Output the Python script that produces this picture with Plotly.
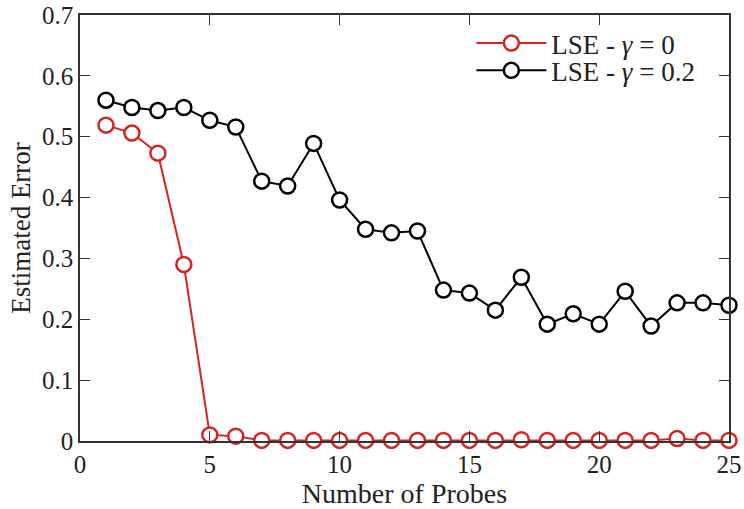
import plotly.graph_objects as go

probes = list(range(1, 26))
err_gamma0 = [0.519, 0.506, 0.473, 0.290, 0.010, 0.008, 0.001, 0.001, 0.001, 0.001,
              0.001, 0.001, 0.001, 0.001, 0.001, 0.001, 0.002, 0.001, 0.001, 0.001,
              0.001, 0.001, 0.004, 0.001, 0.001]
err_gamma02 = [0.560, 0.548, 0.543, 0.548, 0.527, 0.516, 0.427, 0.419, 0.489, 0.396,
               0.348, 0.342, 0.345, 0.248, 0.243, 0.215, 0.269, 0.192, 0.209, 0.192,
               0.246, 0.189, 0.227, 0.227, 0.223]
x_ticks = [0, 5, 10, 15, 20, 25]
y_ticks = [0, 0.1, 0.2, 0.3, 0.4, 0.5, 0.6, 0.7]
y_ticktext = ["0", "0.1", "0.2", "0.3", "0.4", "0.5", "0.6", "0.7"]

FONT = "Liberation Serif, Times New Roman, serif"
RED = "#d42424"

fig = go.Figure()
fig.add_trace(go.Scatter(
    x=probes, y=err_gamma0, mode="lines+markers", name="LSE - <i>γ</i> = 0",
    line=dict(color=RED, width=2), cliponaxis=False, legend="legend",
    marker=dict(symbol="circle", size=15, color="white", line=dict(color=RED, width=2.5)),
))
fig.add_trace(go.Scatter(
    x=probes, y=err_gamma02, mode="lines+markers", name="LSE - <i>γ</i> = 0.2",
    line=dict(color="black", width=2), cliponaxis=False, legend="legend2",
    marker=dict(symbol="circle", size=15, color="white", line=dict(color="black", width=2.5)),
))

axis_common = dict(
    showline=True, linecolor="#333", linewidth=1.5, mirror="ticks",
    ticks="inside", ticklen=10, tickwidth=1.2, tickcolor="#333",
    showgrid=False, zeroline=False, ticklabeloverflow="allow", automargin=False,
    tickfont=dict(family=FONT, size=25, color="#222"),
)

legend_common = dict(
    xanchor="left", yanchor="middle",
    bgcolor="rgba(255,255,255,0)", borderwidth=0,
    font=dict(family=FONT, size=27, color="#222"),
    itemwidth=70,
)

fig.update_layout(
    width=744, height=509,
    margin=dict(l=80, r=15, t=15, b=68),
    paper_bgcolor="white", plot_bgcolor="white",
    font=dict(family=FONT, color="#222"),
    showlegend=True,
    legend=dict(x=0.603, y=0.933, **legend_common),
    legend2=dict(x=0.603, y=0.869, **legend_common),
    xaxis=dict(range=[0, 25], tickmode="array", tickvals=x_ticks,
               ticktext=[str(v) for v in x_ticks],
               title=dict(text="Number of Probes", font=dict(family=FONT, size=28, color="#222"), standoff=0),
               **axis_common),
    yaxis=dict(range=[0, 0.7], tickmode="array", tickvals=y_ticks, ticktext=y_ticktext,
               title=dict(text="Estimated Error", font=dict(family=FONT, size=27, color="#222"), standoff=4),
               **axis_common),
)

fig.write_html("out.html")
